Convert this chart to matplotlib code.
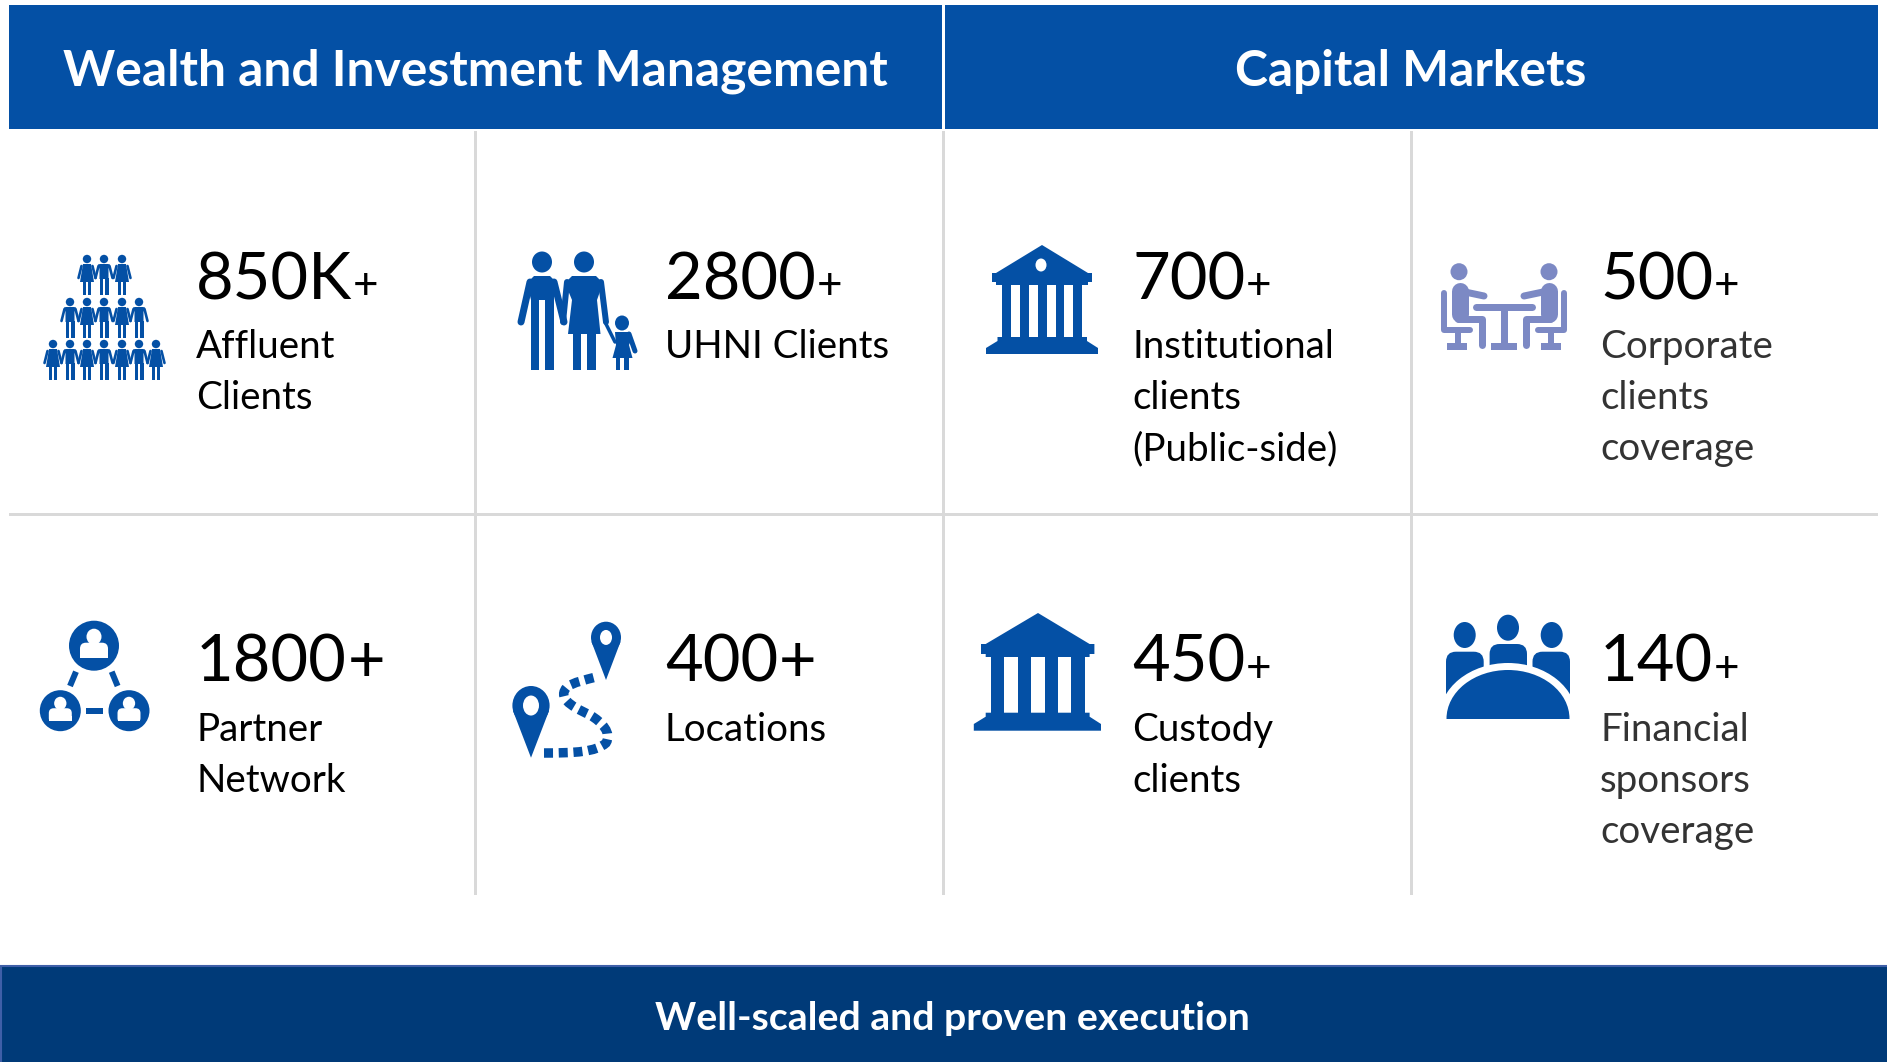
import matplotlib
matplotlib.use('Agg')
import matplotlib.pyplot as plt
from matplotlib.patches import Rectangle, Ellipse, Polygon, PathPatch, FancyBboxPatch
from matplotlib.path import Path

# данные
headers = ['Wealth and Investment Management', 'Capital Markets']
footer = 'Well-scaled and proven execution'
numbers = [['850K', '2800', '700', '500'], ['1800', '400', '450', '140']]
big_plus = [[False, False, False, False], [True, True, False, False]]
labels = [
    [['Affluent', 'Clients'], ['UHNI Clients'], ['Institutional', 'clients', '(Public-side)'],
     ['Corporate', 'clients', 'coverage']],
    [['Partner', 'Network'], ['Locations'], ['Custody', 'clients'],
     ['Financial', 'sponsors', 'coverage']],
]
label_colors = [['black', 'black', 'black', '#333333'], ['black', 'black', 'black', '#333333']]

BLUE = '#0450A5'
NAVY = '#003A78'
LILAC = '#7C89C4'
GRID = '#D9D9D9'
PX = 0.72  # пиксели в пункты при dpi=100

plt.rcParams['font.family'] = ['Lato', 'DejaVu Sans']

fig = plt.figure(figsize=(18.87, 10.62), dpi=100)
ax = fig.add_axes([0, 0, 1, 1])
ax.set_xlim(0, 1887)
ax.set_ylim(1062, 0)
ax.axis('off')


def rect(x0, y0, x1, y1, color=BLUE, z=3):
    ax.add_patch(Rectangle((x0, y0), x1 - x0, y1 - y0, fc=color, ec='none', zorder=z))


def oval(cx, cy, rx, ry, color=BLUE, z=3):
    ax.add_patch(Ellipse((cx, cy), 2 * rx, 2 * ry, fc=color, ec='none', zorder=z))


def poly(pts, color=BLUE, z=3):
    ax.add_patch(Polygon(pts, closed=True, fc=color, ec='none', zorder=z))


def line(pts, w, color=BLUE, z=3, cap='round'):
    xs = [p[0] for p in pts]
    ys = [p[1] for p in pts]
    ax.plot(xs, ys, color=color, lw=w * PX, solid_capstyle=cap, solid_joinstyle='round', zorder=z)


def small_person(cx, top, woman):
    oval(cx, top + 4, 4.2, 4.2)
    line([(cx - 5.5, top + 11), (cx - 8.5, top + 23)], 2.6)
    line([(cx + 5.5, top + 11), (cx + 8.5, top + 23)], 2.6)
    if woman:
        poly([(cx - 4, top + 9), (cx + 4, top + 9), (cx + 7, top + 27), (cx - 7, top + 27)])
        rect(cx - 3.8, top + 26, cx - 1, top + 40)
        rect(cx + 1, top + 26, cx + 3.8, top + 40)
    else:
        poly([(cx - 6, top + 9.5), (cx - 4, top + 9), (cx + 4, top + 9), (cx + 6, top + 9.5),
              (cx + 4.5, top + 14), (cx + 4.5, top + 24), (cx - 4.5, top + 24), (cx - 4.5, top + 14)])
        rect(cx - 4.5, top + 23, cx - 1, top + 40)
        rect(cx + 1, top + 23, cx + 4.5, top + 40)


def icon_crowd():
    rows = [(255, [87, 104, 122], [True, False, True]),
            (298, [70, 87, 104, 122, 139], [False, True, False, True, False]),
            (340, [53, 70, 87, 104, 122, 139, 156], [True, False, True, False, True, False, True])]
    for top, xs, women in rows:
        for x, w in zip(xs, women):
            small_person(x, top, w)


def icon_family():
    # мужчина
    oval(542, 262, 10, 10.5)
    poly([(527, 283), (534, 276), (550, 276), (557, 283), (553.5, 300), (531, 300)])
    rect(531, 298, 539, 370)
    rect(545, 298, 553.5, 370)
    line([(530, 282), (521, 322)], 7)
    line([(554, 282), (564, 322)], 7)
    # женщина
    oval(584, 262, 10, 10.5)
    poly([(565, 283), (572, 276), (596, 276), (603, 283), (597, 300), (600.5, 334), (568, 334), (572, 300)])
    rect(573, 332, 581, 370)
    rect(587, 332, 595.5, 370)
    line([(567, 282), (563, 322)], 6)
    line([(601, 282), (606, 322)], 6)
    # ребёнок
    oval(622, 323, 7, 7.5)
    poly([(615, 332), (628, 332), (631, 340), (629, 345), (632.5, 358), (612.5, 358), (616, 345)])
    rect(615.5, 356, 620, 370)
    rect(624, 356, 629, 370)
    line([(605, 322), (615, 342)], 3.5)
    line([(629, 334), (635, 351)], 5)


def icon_temple(apex, eave_l, eave_r, corn_l, corn_r, y_eave, y_corn, y_top, columns, y_bot,
                step_l, step_r, y_step, base_l, base_r, y_base, y_end, hole=None):
    poly([(apex[0], apex[1]), (eave_r, y_eave), (corn_r, y_eave), (corn_r, y_corn), (eave_r, y_corn),
          (eave_r, y_top), (eave_l, y_top), (eave_l, y_corn), (corn_l, y_corn), (corn_l, y_eave), (eave_l, y_eave)])
    for c0, c1 in columns:
        rect(c0, y_top - 1, c1, y_bot + 1)
    poly([(step_l, y_bot), (step_r, y_bot), (step_r, y_step), (base_r, y_base), (base_r, y_end),
          (base_l, y_end), (base_l, y_base), (step_l, y_step)])
    if hole:
        oval(hole[0], hole[1], hole[2], hole[3], 'white', 4)


def icon_table():
    for s in (1, -1):
        mx = lambda x: 1504 + s * (x - 1504)
        oval(mx(1459), 271.7, 8.5, 8.5, LILAC)
        line([(mx(1459.5), 291), (mx(1459.5), 313.5)], 17, LILAC)
        line([(mx(1465), 292), (mx(1484), 296)], 7, LILAC)
        line([(mx(1458), 318.5), (mx(1482), 318.5), (mx(1482), 345)], 7, LILAC)
        line([(mx(1444), 293), (mx(1444), 330), (mx(1470), 330)], 6, LILAC)
        line([(mx(1457.5), 330), (mx(1457.5), 345)], 6, LILAC, cap='butt')
        rect(min(mx(1447), mx(1467)), 343, max(mx(1447), mx(1467)), 349.5, LILAC)
    line([(1476, 306.7), (1532, 306.7)], 7, LILAC)
    line([(1504, 306.7), (1504, 345)], 7, LILAC, cap='butt')
    rect(1490.7, 343, 1517.3, 349.5, LILAC)


def badge(cx, cy, r):
    oval(cx, cy, r, r)
    k = r / 25.0
    oval(cx, cy - 9 * k, 7.5 * k, 8 * k, 'white', 4)
    ax.add_patch(FancyBboxPatch((cx - 9 * k, cy + 2 * k), 18 * k, 8 * k,
                                boxstyle='round,pad=%f,rounding_size=%f' % (5 * k, 6 * k),
                                fc='white', ec='none', zorder=4))
    rect(cx - 14 * k, cy + 7 * k, cx + 14 * k, cy + 12.5 * k, 'white', 4)
    rect(cx - 15 * k, cy + 12.5 * k, cx + 15 * k, cy + 16 * k, BLUE, 4)


def icon_network():
    badge(94, 645.7, 25)
    badge(60.3, 710.7, 20.5)
    badge(129, 710.7, 20.5)
    line([(76, 671.7), (70, 686)], 6, cap='butt')
    line([(111.7, 671.7), (117.6, 686)], 6, cap='butt')
    line([(86.4, 711), (103, 711)], 6, cap='butt')


def pin(cx, top, tip, r, hole_rx, hole_ry):
    cy = top + r * 1.05
    oval(cx, cy, r, r * 1.05)
    poly([(cx - r * 0.97, cy + r * 0.28), (cx + r * 0.97, cy + r * 0.28), (cx, tip)])
    oval(cx, cy, hole_rx, hole_ry, 'white', 4)


def icon_route():
    pin(606, 621.7, 680, 15, 6, 7.5)
    pin(531, 686, 757.7, 18.6, 8, 10)
    verts = [(544, 753), (575, 753), (596, 752), (606, 743),
             (612, 733), (602, 722), (590, 715),
             (568, 705), (558, 697), (567, 687),
             (574, 682), (585, 680), (596, 677)]
    codes = [Path.MOVETO] + [Path.CURVE4] * 12
    ax.add_patch(PathPatch(Path(verts, codes), fc='none', ec=BLUE, lw=9.5 * PX,
                           linestyle=(0, (0.95, 0.6)), capstyle='butt', zorder=3))


def icon_meeting():
    oval(1464.7, 635, 11, 13)
    oval(1508, 627.7, 11, 13)
    oval(1551.7, 635, 11, 13)
    for x0, x1, y0 in [(1446, 1483.7, 651.7), (1489.6, 1527, 644), (1532.5, 1570, 651.7)]:
        ax.add_patch(FancyBboxPatch((x0 + 8, y0 + 8), x1 - x0 - 16, 60,
                                    boxstyle='round,pad=8,rounding_size=10',
                                    fc=BLUE, ec='none', zorder=3))
    # белое кольцо и купол стола
    oval(1508, 718.7, 69, 55.7, 'white', 4)
    oval(1508, 718.7, 61.5, 48.7, BLUE, 5)
    rect(1436, 718.7, 1580, 775, 'white', 6)


# шапка, подвал, сетка
rect(9, 5, 1878, 129, BLUE, 1)
rect(942, 5, 945, 129, 'white', 2)
ax.add_patch(Rectangle((1, 966), 1890, 100, fc=NAVY, ec='#3F5FA8', lw=1.5, zorder=1))
for x in [475, 1411]:
    rect(x - 1.5, 131, x + 1.5, 895, GRID, 1)
rect(942, 131, 945, 895, GRID, 1)
rect(9, 512.5, 1878, 515.5, GRID, 1)

ax.text(475, 71, headers[0], color='white', fontsize=49.8 * PX, weight='bold', ha='center', va='center')
ax.text(1411, 71, headers[1], color='white', fontsize=49.8 * PX, weight='bold', ha='center', va='center')
ax.text(952, 1019, footer, color='white', fontsize=39.3 * PX, weight='bold', ha='center', va='center')

# текст ячеек
col_x = [196, 665, 1132, 1600]
num_y = [299, 682]
label_y = [358, 741]
line_step = 51.2
renderer = fig.canvas.get_renderer()
for r in range(2):
    for c in range(4):
        t = ax.text(col_x[c], num_y[r], numbers[r][c], color='black', fontsize=65 * PX, va='baseline', ha='left')
        x1 = ax.transData.inverted().transform(t.get_window_extent(renderer).get_points())[1][0]
        size = 65 if big_plus[r][c] else 44
        ax.text(x1 + 1, num_y[r], '+', color='black', fontsize=size * PX, va='baseline', ha='left')
        for i, s in enumerate(labels[r][c]):
            ax.text(col_x[c], label_y[r] + i * line_step, s, color=label_colors[r][c],
                    fontsize=38.5 * PX, va='baseline', ha='left')

# значки
icon_crowd()
icon_family()
icon_temple((1042, 245), 996, 1088, 992, 1092, 273, 282, 285,
            [(1002.4, 1011), (1020, 1029), (1038, 1046.5), (1055.5, 1063.7), (1073, 1082)], 337,
            997.5, 1087, 341, 986, 1098, 348, 354, hole=(1041, 265, 5.5, 6.5))
icon_table()
icon_network()
icon_route()
icon_temple((1038, 613), 985.7, 1089.6, 981, 1094.4, 644, 654, 657,
            [(990.8, 1004.3), (1018, 1031), (1044.6, 1057.6), (1071, 1084.5)], 712.7,
            985.7, 1089.6, 716.7, 973.8, 1101, 724, 730.7)
icon_meeting()

fig.savefig('out.png', dpi=100)
